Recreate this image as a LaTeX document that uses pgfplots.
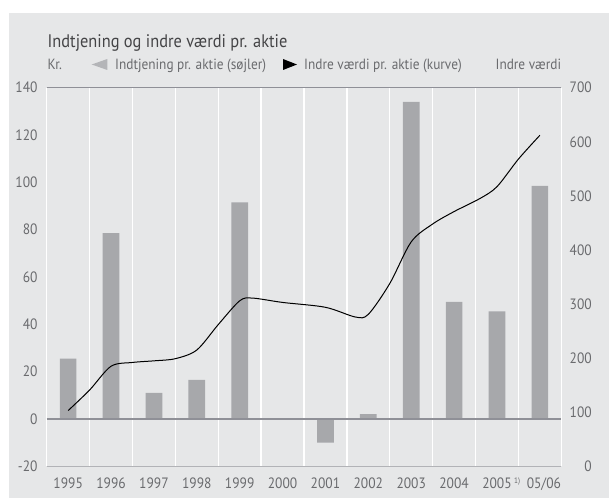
\documentclass[border=0pt]{standalone}
\usepackage{pgfplots}
\pgfplotsset{compat=1.18}
\usepackage{fontspec}
\setmainfont{PT Sans}[FakeStretch=0.9]
\definecolor{bgc}{HTML}{E6E7E8}
\definecolor{barc}{HTML}{A7A8AB}
\definecolor{txtc}{HTML}{6A6B6E}
\definecolor{titc}{HTML}{444446}
\definecolor{axc}{HTML}{8F9097}
\definecolor{legtri}{HTML}{B4B5B8}
\begin{document}
\begin{tikzpicture}[x=1pt,y=1pt]
\fill[white] (0,0) rectangle (609,498);
\fill[bgc] (9,0) rectangle (609,485);
% titles and legend
\node[anchor=base west, inner sep=0, text=titc, font=\fontsize{18.2}{20}\selectfont] at (47.5,450) {Indtjening og indre værdi pr. aktie};
\node[anchor=base west, inner sep=0, text=txtc, font=\fontsize{14.8}{16}\selectfont] at (47.5,428.7) {Kr.};
\fill[legtri] (91.7,433.5) -- (107.3,439) -- (107.3,428) -- cycle;
\node[anchor=base west, inner sep=0, text=txtc, font=\fontsize{14.8}{16}\selectfont] at (115,428.7) {Indtjening pr. aktie (søjler)};
\fill[black] (297,433.5) -- (283,439) -- (283,428) -- cycle;
\node[anchor=base west, inner sep=0, text=txtc, font=\fontsize{14.8}{16}\selectfont] at (304,428.7) {Indre værdi pr. aktie (kurve)};
\node[anchor=base east, inner sep=0, text=txtc, font=\fontsize{14.8}{16}\selectfont] at (561.3,428.7) {Indre værdi};
\begin{axis}[
  at={(46.7pt,31.7pt)}, anchor=south west, scale only axis,
  width=514.6pt, height=378.6pt,
  xmin=-0.5, xmax=11.5, ymin=-20, ymax=140,
  axis line style={draw=none},
  major tick length=0pt, minor tick length=0pt,
  xtick={0,...,11},
  xticklabels={1995,1996,1997,1998,1999,2000,2001,2002,2003,2004,{2005\rlap{\hspace{2.5pt}\raisebox{5pt}{\fontsize{8}{9}\selectfont 1)}}},{\hspace*{8pt}05/06}},
  minor xtick={-0.5,0.5,...,11.5},
  xminorgrids=true,
  minor grid style={white, line width=1.3pt},
  ytick={-20,0,...,140},
  /pgf/number format/assume math mode=true,
  ticklabel style={font=\fontsize{15}{17}\selectfont, text=txtc, inner sep=0pt},
  yticklabel style={anchor=east, xshift=-9pt},
  xticklabel style={anchor=base, yshift=-21.7pt},
  clip=false,
]
\addplot[ybar, bar width=16.7pt, fill=barc, draw=none] coordinates {
(0,25.5) (1,78.5) (2,11) (3,16.5) (4,91.5) (5,0) (6,-10) (7,2) (8,134) (9,49.5) (10,45.5) (11,98.5)};
\draw[axc, line width=1pt] (axis cs:-0.5,140) -- (axis cs:11.5,140);
\draw[axc, line width=1.3pt] (axis cs:-0.5,0) -- (axis cs:11.5,0);
\draw[axc!60!bgc, line width=0.8pt] (axis cs:-0.5,-20) -- (axis cs:11.5,-20);
\end{axis}
\begin{axis}[
  at={(46.7pt,31.7pt)}, anchor=south west, scale only axis,
  width=514.6pt, height=378.6pt,
  xmin=-0.5, xmax=11.5, ymin=0, ymax=700,
  axis line style={draw=none},
  axis y line*=right, axis x line=none,
  major tick length=0pt,
  ytick={0,100,...,700},
  /pgf/number format/assume math mode=true,
  yticklabel style={font=\fontsize{15}{17}\selectfont, text=txtc, inner sep=0pt, anchor=east, xshift=30.7pt},
]
\addplot[black, line width=1pt, smooth] coordinates {
(0,103) (0.5,141) (1,185) (1.5,192) (2,195) (2.5,199) (3,215) (3.5,262) (4,306) (4.3,311) (5,303) (6,294) (6.7,276) (7,281) (7.5,338) (8,415) (8.5,448) (9,471) (9.6,495) (10,517) (10.5,568) (11,612)};
\end{axis}
\end{tikzpicture}
\end{document}
